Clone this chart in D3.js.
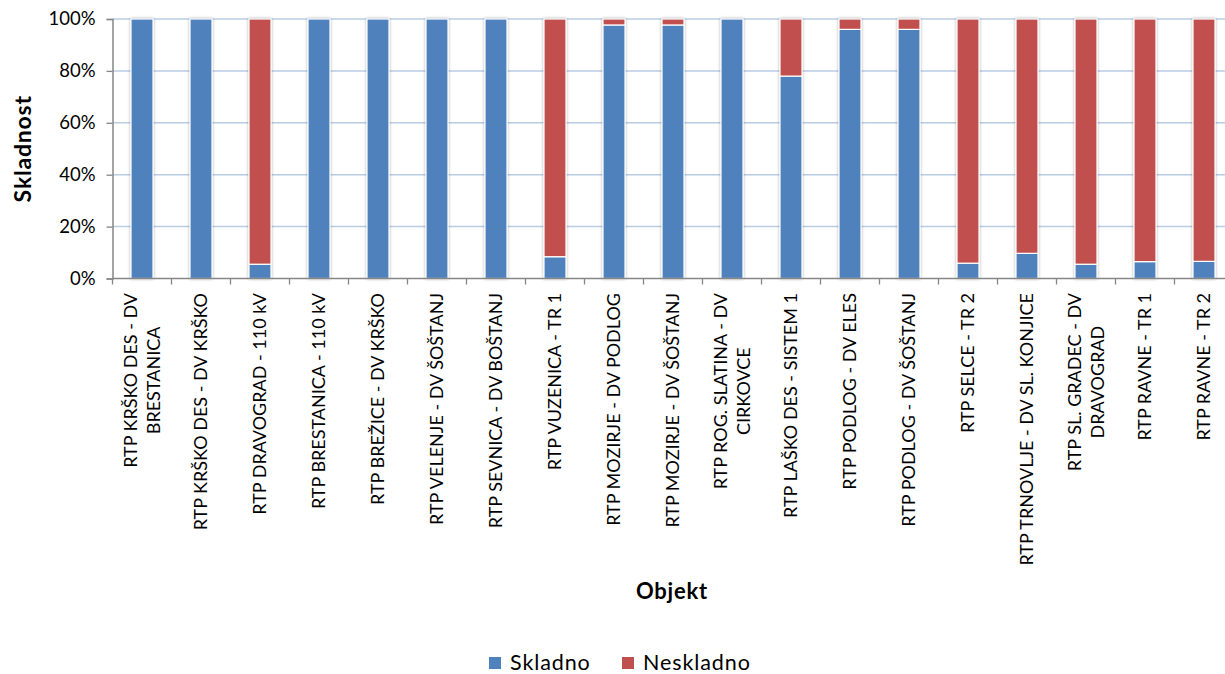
<!DOCTYPE html>
<html>
<head>
<meta charset="utf-8">
<script src="https://cdn.jsdelivr.net/npm/d3@7"></script>
<style>
  html, body { margin: 0; padding: 0; background: #fff; }
  svg { display: block; font-family: Lato, "Open Sans", sans-serif; }
</style>
</head>
<body>
<svg id="chart" width="1225" height="674"></svg>
<script>
// Objects (line breaks with "\n")
const categories = [
  "RTP KRŠKO DES - DV\nBRESTANICA",
  "RTP KRŠKO DES - DV KRŠKO",
  "RTP DRAVOGRAD - 110 kV",
  "RTP BRESTANICA - 110 kV",
  "RTP BREŽICE - DV KRŠKO",
  "RTP VELENJE - DV ŠOŠTANJ",
  "RTP SEVNICA - DV BOŠTANJ",
  "RTP VUZENICA - TR 1",
  "RTP MOZIRJE - DV PODLOG",
  "RTP MOZIRJE - DV ŠOŠTANJ",
  "RTP ROG. SLATINA - DV\nCIRKOVCE",
  "RTP LAŠKO DES - SISTEM 1",
  "RTP PODLOG - DV ELES",
  "RTP PODLOG - DV ŠOŠTANJ",
  "RTP SELCE - TR 2",
  "RTP TRNOVLJE - DV SL. KONJICE",
  "RTP SL. GRADEC - DV\nDRAVOGRAD",
  "RTP RAVNE - TR 1",
  "RTP RAVNE - TR 2"
];

// Share of compliant (Skladno) and non-compliant (Neskladno), in %
const skladno =   [100, 100, 5.5, 100, 100, 100, 100, 8.4, 97.7, 97.7, 100, 78, 96, 96, 5.9, 9.7, 5.5, 6.5, 6.6];
const neskladno = [0, 0, 94.5, 0, 0, 0, 0, 91.6, 2.3, 2.3, 0, 22, 4, 4, 94.1, 90.3, 94.5, 93.5, 93.4];

const seriesNames = ["Skladno", "Neskladno"];
const seriesColors = ["#4f81bd", "#c0504d"];
const yTicks = [0, 20, 40, 60, 80, 100];

const svg = d3.select("#chart");

const plot = { left: 112.5, right: 1233.5, top: 19, bottom: 278.5 };

const x = d3.scaleBand()
  .domain(d3.range(categories.length))
  .range([plot.left, plot.right])
  .paddingInner(0.627)
  .paddingOuter(0.3135);

const xOuter = d3.scaleBand()
  .domain(d3.range(categories.length))
  .range([plot.left, plot.right]);

const y = d3.scaleLinear().domain([0, 100]).range([plot.bottom, plot.top]);

// soft drop shadow under bars
const defs = svg.append("defs");
const f = defs.append("filter").attr("id", "shadow")
  .attr("x", "-30%").attr("y", "-5%").attr("width", "160%").attr("height", "110%");
f.append("feGaussianBlur").attr("in", "SourceAlpha").attr("stdDeviation", 1.6).attr("result", "b");
f.append("feOffset").attr("in", "b").attr("dx", 0).attr("dy", 0).attr("result", "o");
f.append("feComponentTransfer").attr("in", "o").attr("result", "oa")
  .append("feFuncA").attr("type", "linear").attr("slope", 0.35);
const fm = f.append("feMerge");
fm.append("feMergeNode").attr("in", "oa");
fm.append("feMergeNode").attr("in", "SourceGraphic");

// gridlines
svg.append("g")
  .selectAll("line")
  .data(yTicks.filter(d => d > 0))
  .join("line")
  .attr("x1", plot.left).attr("x2", plot.right)
  .attr("y1", d => y(d)).attr("y2", d => y(d))
  .attr("stroke", "#b9cde5").attr("stroke-width", 1.5);

// stacked bars
const rows = categories.map((c, i) => ({ i, Skladno: skladno[i], Neskladno: neskladno[i] }));
const stack = d3.stack().keys(seriesNames)(rows);

const barG = svg.append("g").attr("filter", "url(#shadow)");
stack.forEach((layer, k) => {
  barG.append("g")
    .selectAll("rect")
    .data(layer.filter(d => d[1] - d[0] > 0))
    .join("rect")
    .attr("x", d => x(d.data.i))
    .attr("width", x.bandwidth())
    .attr("y", d => y(d[1]))
    .attr("height", d => y(d[0]) - y(d[1]))
    .attr("fill", seriesColors[k])
    .attr("stroke", "#fff")
    .attr("stroke-width", 1.2);
});

// axes
const axisColor = "#868686";
const yAxis = svg.append("g")
  .attr("transform", `translate(${plot.left},0)`)
  .call(d3.axisLeft(y).tickValues(yTicks).tickFormat(d => d + "%").tickSize(6).tickPadding(11));
yAxis.select(".domain").attr("stroke", axisColor).attr("stroke-width", 1.5);
yAxis.selectAll(".tick line").attr("stroke", axisColor).attr("stroke-width", 1.3);
yAxis.selectAll(".tick text")
  .attr("font-size", 18.5).attr("fill", "#000")
  .attr("font-family", "Lato, sans-serif");

const xAxis = svg.append("g").attr("transform", `translate(0,${plot.bottom})`);
xAxis.append("line")
  .attr("x1", plot.left).attr("x2", plot.right)
  .attr("stroke", axisColor).attr("stroke-width", 1.5);
xAxis.selectAll("line.tk")
  .data(d3.range(categories.length + 1))
  .join("line").attr("class", "tk")
  .attr("x1", d => plot.left + d * xOuter.step()).attr("x2", d => plot.left + d * xOuter.step())
  .attr("y1", 0).attr("y2", 6)
  .attr("stroke", axisColor).attr("stroke-width", 1.3);

// rotated category labels, lines centred, block top at fixed offset
const labelTop = 293;
const lineGap = 23;
const labelFont = 18;
const lab = svg.append("g").attr("font-size", labelFont).attr("fill", "#000");
categories.forEach((c, i) => {
  const lines = c.split("\n");
  const cx = x(i) + x.bandwidth() / 2;
  const g = lab.append("g");
  const texts = lines.map(l => g.append("text").text(l).attr("text-anchor", "middle"));
  const maxLen = d3.max(texts, t => t.node().getComputedTextLength());
  const n = lines.length;
  texts.forEach((t, j) => {
    const off = (j - (n - 1) / 2) * lineGap;
    // baseline offset to visually centre glyphs on the column line
    t.attr("transform", `translate(${cx + off + labelFont * 0.36},${labelTop + maxLen / 2}) rotate(-90)`);
  });
});

// axis titles
svg.append("text")
  .attr("transform", `translate(31,${(plot.top + plot.bottom) / 2}) rotate(-90)`)
  .attr("text-anchor", "middle")
  .attr("font-size", 23).attr("font-weight", "bold").attr("letter-spacing", 0.8)
  .text("Skladnost");

svg.append("text")
  .attr("x", 672).attr("y", 599)
  .attr("text-anchor", "middle")
  .attr("font-size", 22).attr("font-weight", "bold").attr("letter-spacing", 0.8)
  .text("Objekt");

// legend
const legend = svg.append("g").attr("transform", "translate(489,657)");
const legX = [0, 133];
seriesNames.forEach((s, k) => {
  const g = legend.append("g").attr("transform", `translate(${legX[k]},0)`);
  g.append("rect").attr("width", 12).attr("height", 12).attr("fill", seriesColors[k]);
  g.append("text").attr("x", 21).attr("y", 12.5).attr("font-size", 21.5).attr("letter-spacing", 0.9).text(s);
});
</script>
</body>
</html>
